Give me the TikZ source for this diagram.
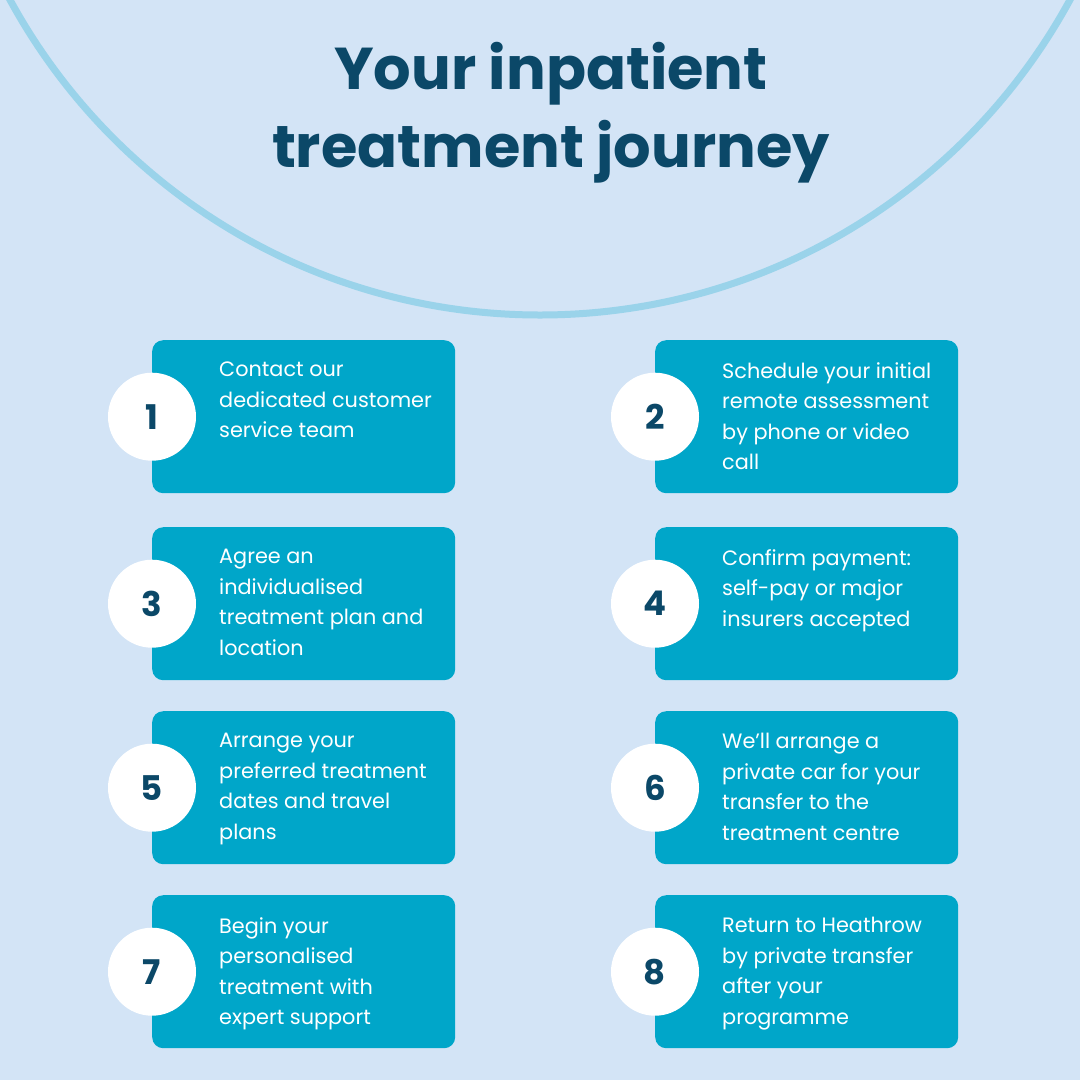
\documentclass[tikz,border=0pt]{standalone}
\usepackage{fontspec}
\setmainfont{Poppins}
\definecolor{bg}{HTML}{D3E4F6}
\definecolor{arc}{HTML}{9AD3EA}
\definecolor{box}{HTML}{00A6C9}
\definecolor{navy}{HTML}{0B4868}
\tikzset{
 stepbox/.style={fill=box,rounded corners=11pt,minimum width=303pt,minimum height=153pt,anchor=north west},
 numc/.style={circle,fill=white,minimum size=88pt,inner sep=0pt,font=\fontsize{34}{34}\selectfont\bfseries,text=navy},
 txt/.style={anchor=north west,align=left,text=white,inner sep=0pt,font=\fontsize{20.8}{30.5}\selectfont}
}
\begin{document}
\begin{tikzpicture}[x=1pt,y=-1pt]
\useasboundingbox (0,0) rectangle (1080,1080);
\fill[bg] (0,0) rectangle (1080,1080);
\begin{scope}
\clip (0,0) rectangle (1080,1080);
\draw[arc,line width=7pt] (540,-288) circle (603);
\end{scope}
\node[text=navy,align=center,font=\fontsize{59}{78}\selectfont\bfseries] (title) at (551,113) {Your inpatient\\treatment journey};
\foreach \n/\x/\y/\t in {
1/152/340/{Contact our\\dedicated customer\\service team},
2/655/340/{Schedule your initial\\remote assessment\\by phone or video\\call},
3/152/527/{Agree an\\individualised\\treatment plan and\\location},
4/655/527/{Confirm payment:\\self-pay or major\\insurers accepted},
5/152/711/{Arrange your\\preferred treatment\\dates and travel\\plans},
6/655/711/{We’ll arrange a\\private car for your\\transfer to the\\treatment centre},
7/152/895/{Begin your\\personalised\\treatment with\\expert support},
8/655/895/{Return to Heathrow\\by private transfer\\after your\\programme}}{
 \node[stepbox] (b\n) at (\x,\y) {};
 \node[numc] (c\n) at (b\n.west) {\n};
 \node[txt] (t\n) at (\x+67,\y+22) {\t};
}
\end{tikzpicture}
\end{document}
